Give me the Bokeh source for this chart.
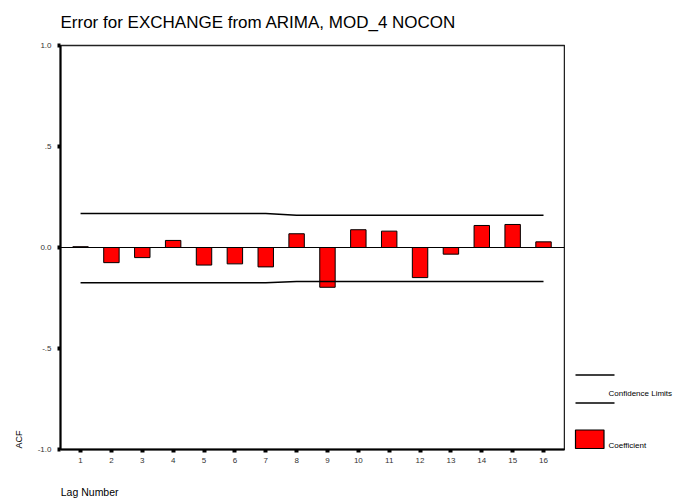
from bokeh.plotting import figure
from bokeh.layouts import row
from bokeh.models import Span, Title, FixedTicker, ColumnDataSource
from bokeh.core.properties import value
from bokeh.embed import file_html
from bokeh.resources import INLINE

# Autocorrelations of the ARIMA residuals, lags 1..16
lags = [1, 2, 3, 4, 5, 6, 7, 8, 9, 10, 11, 12, 13, 14, 15, 16]
acf = [0.004, -0.075, -0.050, 0.035, -0.087, -0.081, -0.096, 0.068,
       -0.197, 0.088, 0.081, -0.149, -0.033, 0.109, 0.114, 0.028]
upper = [0.168, 0.168, 0.168, 0.168, 0.168, 0.168, 0.168, 0.160,
         0.160, 0.160, 0.160, 0.160, 0.160, 0.160, 0.160, 0.160]
lower = [-0.174, -0.174, -0.174, -0.174, -0.174, -0.174, -0.174, -0.168,
         -0.168, -0.168, -0.168, -0.168, -0.168, -0.168, -0.168, -0.168]

y_ticks = [-1.0, -0.5, 0.0, 0.5, 1.0]
y_tick_labels = ["-1.0", "-.5", "0.0", ".5", "1.0"]

FONT = "Liberation Sans"
BAR_RED = "#ff0000"
NBSP = "\u00a0"

p = figure(width=565, height=502, x_range=(0.35, 16.68), y_range=(-1.0, 1.0),
           output_backend="svg", toolbar_location=None,
           min_border_left=60, min_border_right=1,
           min_border_top=45, min_border_bottom=53)
p.grid.visible = False
p.outline_line_color = "#222222"
p.outline_line_width = 1.5

for ax in (p.xaxis[0], p.yaxis[0]):
    ax.axis_line_color = "black"
    ax.axis_line_width = 2
    ax.major_tick_in = 0
    ax.major_tick_out = 3
    ax.major_tick_line_width = 4
    ax.major_tick_line_color = "black"
    ax.minor_tick_line_color = None
    ax.major_label_text_font = FONT
    ax.major_label_text_font_size = "8px"
    ax.major_label_text_color = "#333333"

p.xaxis.ticker = FixedTicker(ticks=lags)
p.xaxis.major_label_standoff = 5
# the axis title is centred on the start of the axis; pad it so it begins there
p.xaxis.axis_label = NBSP * 20 + "Lag Number"
p.xaxis.axis_label_align = "start"
p.xaxis.axis_label_standoff = 20
p.xaxis.axis_label_text_font = FONT
p.xaxis.axis_label_text_font_size = "10.5px"
p.xaxis.axis_label_text_font_style = "normal"
p.xaxis.axis_label_text_color = "black"

p.yaxis.ticker = FixedTicker(ticks=y_ticks)
p.yaxis.major_label_overrides = {t: s for t, s in zip(y_ticks, y_tick_labels)}
p.yaxis.major_label_standoff = 6

def side_title(text, size, standoff, valign, offset=0):
    return Title(text=text, align="left", vertical_align=valign, offset=offset,
                 standoff=standoff, text_font=FONT, text_font_size=size,
                 text_font_style="normal", text_color="black")

p.add_layout(side_title("Error for EXCHANGE from ARIMA, MOD_4 NOCON", "17px", 24, "top"),
             "above")
p.add_layout(side_title("ACF", "9px", 22, "bottom", offset=1), "left")

# zero reference line
p.add_layout(Span(location=0, dimension="width", line_color="black", line_width=1))

src = ColumnDataSource(dict(lag=lags, acf=acf, upper=upper, lower=lower))
p.vbar(x="lag", top="acf", bottom=0, width=0.5, source=src,
       fill_color=BAR_RED, line_color="black", line_width=1)
p.line(x="lag", y="upper", source=src, line_color="black", line_width=1.5)
p.line(x="lag", y="lower", source=src, line_color="black", line_width=1.5)

# legend panel: its frame lines up with the chart frame; y counted downward
leg = figure(width=113, height=502, x_range=(1, 114), y_range=(449, 45),
             output_backend="svg", toolbar_location=None,
             x_axis_type=None, y_axis_type=None,
             min_border_left=0, min_border_right=0,
             min_border_top=0, min_border_bottom=0)
leg.grid.visible = False
leg.outline_line_color = None

leg.segment(x0=[11, 11], y0=[374.5, 402.5], x1=[50, 50], y1=[374.5, 402.5],
            line_color="black", line_width=1.5)
leg.quad(left=[11], right=[39.5], top=[429.5], bottom=[448],
         fill_color=BAR_RED, line_color="black", line_width=1.2)
leg.text(x=[44, 44], y=[392.5, 444.5], text=["Confidence Limits", "Coefficient"],
         text_font=value(FONT), text_font_size="8px", text_color="black",
         text_baseline="middle", text_align="left")

layout = row(p, leg, spacing=0)
open("out.html", "w").write(file_html(layout, INLINE))
